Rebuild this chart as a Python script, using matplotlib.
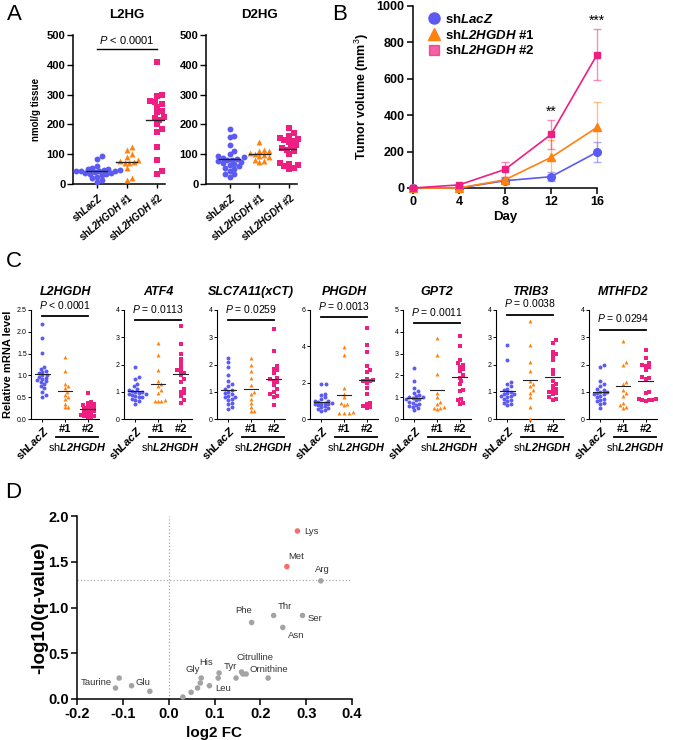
import numpy as np
import matplotlib
matplotlib.use('Agg')
import matplotlib.pyplot as plt
from matplotlib.lines import Line2D

plt.rcParams['font.family'] = ['Liberation Sans', 'DejaVu Sans']
plt.rcParams['axes.unicode_minus'] = False
plt.rcParams['mathtext.fontset'] = 'custom'
plt.rcParams['mathtext.rm'] = 'Liberation Sans'
plt.rcParams['mathtext.it'] = 'Liberation Sans:italic'
plt.rcParams['mathtext.bf'] = 'Liberation Sans:bold'
plt.rcParams['mathtext.bfit'] = 'Liberation Sans:bold:italic'

BLUE = '#5b5bf3'
ORANGE = '#ff8210'
PINK = '#ee1f80'
colors = [BLUE, ORANGE, PINK]
markers = ['o', '^', 's']

# ---- panel A : 2HG levels (nmol/g tissue)
a_ticklabels = [r'sh$\mathbfit{LacZ}$', r'sh$\mathbfit{L2HGDH}$ #1', r'sh$\mathbfit{L2HGDH}$ #2']
l2hg_lacz = [93, 85, 62, 55, 52, 50, 48, 47, 45, 44, 43, 42, 40, 38, 36, 35, 33, 30, 25, 20, 12, 8]
l2hg_sh1 = [125, 115, 100, 90, 80, 76, 75, 72, 70, 55, 20, 15]
l2hg_sh2 = [410, 300, 295, 280, 275, 270, 260, 245, 240, 225, 220, 215, 200, 185, 175, 125, 80, 45, 35]
d2hg_lacz = [185, 162, 158, 130, 112, 100, 95, 90, 88, 85, 82, 80, 78, 75, 70, 68, 65, 60, 55, 50, 45, 35, 32, 22]
d2hg_sh1 = [140, 115, 112, 110, 105, 100, 98, 95, 90, 80, 78, 75]
d2hg_sh2 = [188, 170, 160, 155, 150, 148, 145, 140, 130, 125, 120, 115, 110, 100, 70, 68, 65, 60, 55, 50]

# ---- panel B : tumor growth
days = [0, 4, 8, 12, 16]
vol_lacz = [0, 0, 40, 62, 197]
sem_lacz = [0, 0, 10, 25, 55]
vol_sh1 = [0, 0, 45, 168, 333]
sem_sh1 = [0, 0, 15, 95, 137]
vol_sh2 = [0, 17, 102, 294, 732]
sem_sh2 = [0, 5, 43, 78, 140]
b_labels = [r'sh$\mathbfit{LacZ}$', r'sh$\mathbfit{L2HGDH}$ #1', r'sh$\mathbfit{L2HGDH}$ #2']
stars = {12: '**', 16: '***'}
star_y = {12: 420, 16: 918}

# ---- panel C : relative mRNA level
c_genes = ['L2HGDH', 'ATF4', 'SLC7A11(xCT)', 'PHGDH', 'GPT2', 'TRIB3', 'MTHFD2']
c_pvals = ['< 0.0001', '= 0.0113', '= 0.0259', '= 0.0013', '= 0.0011', '= 0.0038', '= 0.0294']
c_ymax = [2.5, 4, 4, 6, 5, 4, 4]
c_ystep = [0.5, 1, 1, 2, 1, 1, 1]
c_bar = [2.36, 3.63, 3.62, 5.6, 4.39, 3.83, 3.27]
c_lacz = [
    [2.17, 1.86, 1.52, 1.2, 1.15, 1.1, 1.08, 1.05, 1.02, 1.0, 0.97, 0.95, 0.92, 0.9, 0.87, 0.84, 0.8, 0.75, 0.7, 0.63, 0.55, 0.5],
    [1.92, 1.55, 1.45, 1.3, 1.2, 1.1, 1.05, 1.02, 1.0, 0.98, 0.95, 0.92, 0.9, 0.88, 0.85, 0.82, 0.8, 0.75, 0.7, 0.65, 0.55],
    [2.25, 2.1, 1.9, 1.6, 1.4, 1.3, 1.2, 1.1, 1.05, 1.0, 0.95, 0.9, 0.85, 0.82, 0.8, 0.75, 0.7, 0.6, 0.55, 0.45, 0.35],
    [1.9, 1.9, 1.4, 1.3, 1.2, 1.1, 1.0, 1.0, 0.95, 0.9, 0.9, 0.85, 0.8, 0.8, 0.75, 0.7, 0.65, 0.6, 0.55, 0.5, 0.45],
    [2.32, 1.75, 1.4, 1.3, 1.2, 1.1, 1.05, 1.0, 1.0, 0.95, 0.9, 0.9, 0.85, 0.8, 0.75, 0.7, 0.65, 0.6, 0.55, 0.5, 0.4],
    [2.7, 2.15, 1.35, 1.3, 1.2, 1.1, 1.05, 1.0, 0.95, 0.9, 0.9, 0.85, 0.85, 0.8, 0.75, 0.7, 0.65, 0.6, 0.55, 0.5],
    [2.0, 1.9, 1.4, 1.3, 1.2, 1.1, 1.05, 1.0, 1.0, 0.95, 0.9, 0.9, 0.85, 0.8, 0.75, 0.7, 0.65, 0.6, 0.55, 0.4],
]
c_sh1 = [
    [1.43, 1.1, 0.8, 0.75, 0.7, 0.62, 0.55, 0.5, 0.45, 0.35, 0.27, 0.27],
    [2.8, 2.35, 1.8, 1.4, 1.3, 1.2, 1.05, 0.95, 0.7, 0.65, 0.65, 0.65],
    [2.25, 2.0, 1.75, 1.5, 1.25, 1.0, 0.9, 0.75, 0.6, 0.45, 0.3, 0.3],
    [3.95, 3.5, 1.7, 1.4, 1.2, 0.9, 0.85, 0.75, 0.4, 0.35, 0.35, 0.35],
    [3.7, 2.95, 2.05, 1.2, 1.0, 0.8, 0.7, 0.55, 0.5, 0.5, 0.45],
    [3.6, 2.7, 2.1, 1.75, 1.4, 1.3, 1.2, 1.05, 0.95, 0.8, 0.45, 0.0],
    [2.85, 2.1, 2.0, 1.35, 1.3, 1.05, 0.95, 0.85, 0.6, 0.5, 0.45, 0.4],
]
c_sh2 = [
    [0.6, 0.38, 0.36, 0.34, 0.32, 0.3, 0.28, 0.26, 0.25, 0.22, 0.2, 0.18, 0.16, 0.14, 0.12, 0.1, 0.08, 0.06, 0.05, 0.04],
    [3.4, 2.75, 2.4, 2.2, 2.05, 1.9, 1.8, 1.75, 1.7, 1.6, 1.45, 1.35, 1.1, 1.0, 0.95, 0.85, 0.7, 0.6],
    [3.3, 2.5, 1.95, 1.85, 1.8, 1.7, 1.5, 1.45, 1.4, 1.35, 1.25, 1.1, 1.0, 0.9, 0.85, 0.8, 0.5],
    [5.0, 4.1, 3.7, 2.9, 2.7, 2.6, 2.2, 2.15, 2.1, 2.1, 2.0, 1.7, 1.4, 0.9, 0.85, 0.7, 0.65, 0.6],
    [3.8, 3.35, 2.7, 2.55, 2.5, 2.4, 2.3, 2.2, 2.0, 1.9, 1.75, 1.6, 1.35, 1.3, 0.9, 0.85, 0.75, 0.7],
    [2.9, 2.8, 2.45, 2.4, 2.3, 2.15, 1.8, 1.65, 1.4, 1.3, 1.2, 1.1, 1.05, 1.0, 0.95, 0.9, 0.8, 0.75, 0.7],
    [2.55, 2.25, 2.05, 2.0, 1.95, 1.9, 1.8, 1.55, 1.5, 1.45, 1.0, 0.95, 0.75, 0.72, 0.7, 0.7, 0.68, 0.65],
]

# ---- panel D : volcano
aa_names = ['Lys', 'Met', 'Arg', 'Thr', 'Ser', 'Phe', 'Asn', 'Citrulline', '', '', 'Ornithine', 'Tyr',
            'His', '', 'Gly', '', '', 'Leu', '', '', 'Taurine', '', 'Glu', '']
aa_fc = [0.281, 0.258, 0.332, 0.229, 0.292, 0.181, 0.249, 0.159, 0.162, 0.169, 0.217, 0.147,
         0.110, 0.108, 0.071, 0.069, 0.063, 0.089, 0.049, 0.031, -0.116, -0.108, -0.081, -0.041]
aa_q = [1.836, 1.447, 1.291, 0.913, 0.913, 0.836, 0.782, 0.295, 0.273, 0.273, 0.229, 0.229,
        0.284, 0.229, 0.229, 0.175, 0.120, 0.145, 0.073, 0.022, 0.120, 0.229, 0.145, 0.084]
aa_label_off = {'Lys': (5, 0, 'left'), 'Met': (7, 7, 'center'), 'Arg': (1, 8, 'center'),
                'Thr': (8, 6.5, 'center'), 'Ser': (9, -2, 'center'), 'Phe': (-5.5, 8.4, 'center'),
                'Asn': (10, -6, 'center'), 'Citrulline': (9.6, 10.5, 'center'),
                'Ornithine': (0.5, 6.5, 'center'), 'Tyr': (-4, 8, 'center'), 'His': (-9, 7.5, 'center'),
                'Gly': (-6, 6, 'center'), 'Leu': (9.6, -2, 'center'), 'Taurine': (-2.5, 4.3, 'right'),
                'Glu': (8.4, 2.4, 'center')}
q_cut = 1.3

W, H = 673, 740
fig = plt.figure(figsize=(W / 100, H / 100), dpi=100)


def add_ax(l, t, r, b):
    ax = fig.add_axes([l / W, 1 - b / H, (r - l) / W, (b - t) / H])
    ax.spines['top'].set_visible(False)
    ax.spines['right'].set_visible(False)
    return ax


def swarm(ax, xc, vals, d, step=0.5):
    # greedy beeswarm in pixel space
    vals = np.asarray(vals, float)
    pts = ax.transData.transform(np.column_stack([np.full(len(vals), xc), vals]))
    x0 = pts[0, 0]
    placed = []
    xs = np.empty(len(vals))
    inv = ax.transData.inverted()
    for i in np.argsort(vals):
        y = pts[i, 1]
        k = 0
        while True:
            off = ((k + 1) // 2) * (1 if k % 2 else -1) * d * step
            if all(np.hypot(px - (x0 + off), py - y) >= d for px, py in placed):
                break
            k += 1
        placed.append((x0 + off, y))
        xs[i] = inv.transform((x0 + off, y))[0]
    return xs


def dot_groups(ax, groups, d, s, lw_mean, half):
    for j, vals in enumerate(groups):
        xs = swarm(ax, j, vals, d)
        ax.scatter(xs, vals, s=s, marker=markers[j], color=colors[j], linewidths=0,
                   clip_on=False, zorder=3)
        m = np.mean(vals)
        ax.plot([j - half, j + half], [m, m], color='#222222', lw=lw_mean, zorder=4)


# ---------------- Panel A
for (l, r), title, groups, ylab in [((73, 165), 'L2HG', [l2hg_lacz, l2hg_sh1, l2hg_sh2], 'nmol/g tissue'),
                                    ((206, 297), 'D2HG', [d2hg_lacz, d2hg_sh1, d2hg_sh2], None)]:
    ax = add_ax(l, 35, r, 184)
    ax.set_xlim(-0.8, 2.27)
    ax.set_ylim(0, 500)
    ax.set_yticks(range(0, 501, 100))
    ax.set_xticks([0, 1, 2])
    ax.set_xticklabels(a_ticklabels, rotation=40, ha='right', rotation_mode='anchor',
                       fontsize=7, fontweight='bold')
    for t in ax.get_yticklabels():
        t.set_fontweight('bold')
    ax.tick_params(axis='y', labelsize=8, length=4, width=1, pad=1.5)
    ax.tick_params(axis='x', length=3, width=1, pad=2)
    for sp in ax.spines.values():
        sp.set_linewidth(1.1)
    dot_groups(ax, groups, 4.6, 18, 1.0, 0.35)
    ax.text(1, 1.135, title, transform=ax.get_xaxis_transform(), ha='center', va='center',
            fontsize=9.5, fontweight='bold')
    if ylab:
        ax.set_ylabel(ylab, fontsize=7, fontweight='bold', labelpad=4)
        ax.plot([0, 2], [452, 452], color='k', lw=1)
        ax.text(1, 462, '$P$ < 0.0001', ha='center', va='bottom', fontsize=8)

# ---------------- Panel B
ax = add_ax(413, 6, 597, 188)
for vals, err, col, mk, ms in [(vol_lacz, sem_lacz, BLUE, 'o', 5.5),
                               (vol_sh1, sem_sh1, ORANGE, '^', 5.5),
                               (vol_sh2, sem_sh2, PINK, 's', 5)]:
    ax.errorbar(days, vals, yerr=err, fmt='none', ecolor=col, alpha=0.5, elinewidth=1,
                capsize=3, capthick=1, clip_on=False, zorder=2)
    ax.plot(days, vals, color=col, lw=1.2, marker=mk, ms=ms, clip_on=False, zorder=3)
for dday, st in stars.items():
    ax.text(dday, star_y[dday], st, ha='center', va='center', fontsize=10)
ax.set_xlim(0, 16)
ax.set_ylim(0, 1000)
ax.set_xticks(days)
ax.set_yticks(range(0, 1001, 200))
for t in ax.get_xticklabels() + ax.get_yticklabels():
    t.set_fontweight('bold')
ax.tick_params(labelsize=9, length=4, width=1.1, pad=2)
for sp in ax.spines.values():
    sp.set_linewidth(1.1)
ax.set_xlabel('Day', fontsize=9.5, fontweight='bold', labelpad=2)
ax.set_ylabel('Tumor volume (mm$^3$)', fontsize=9, fontweight='bold', labelpad=4)
handles = [Line2D([], [], color=c, marker=m, ls='none', ms=ms, alpha=a)
           for c, m, ms, a in [(BLUE, 'o', 8, 1), (ORANGE, '^', 8, 1), (PINK, 's', 7.5, 0.7)]]
ax.legend(handles, b_labels, loc='upper left', bbox_to_anchor=(0.03, 0.99), frameon=False,
          prop={'weight': 'bold', 'size': 9.5}, handletextpad=0.1, labelspacing=0.2,
          borderaxespad=0, handlelength=1.5)

# ---------------- Panel C
c_lefts = [31, 124, 217, 310, 403, 496, 589]
for k, gene in enumerate(c_genes):
    l = c_lefts[k]
    ax = add_ax(l, 310, l + 68, 419)
    ax.set_xlim(-0.5, 2.5)
    ax.set_ylim(0, c_ymax[k])
    ax.set_yticks(np.arange(0, c_ymax[k] + 1e-9, c_ystep[k]))
    if c_ystep[k] < 1:
        ax.set_yticklabels(['%.1f' % v for v in np.arange(0, c_ymax[k] + 1e-9, c_ystep[k])])
    ax.set_xticks([0, 1, 2])
    ax.set_xticklabels([r'sh$\mathbfit{LacZ}$', '#1', '#2'], fontsize=8, fontweight='bold')
    lab0 = ax.get_xticklabels()[0]
    lab0.set_rotation(45)
    lab0.set_ha('right')
    lab0.set_va('top')
    lab0.set_rotation_mode('anchor')
    ax.tick_params(axis='y', labelsize=5, length=2, width=0.7, pad=1)
    ax.tick_params(axis='x', length=2, width=0.7, pad=1.5)
    for sp in ax.spines.values():
        sp.set_linewidth(0.8)
    dot_groups(ax, [c_lacz[k], c_sh1[k], c_sh2[k]], 3.4, 8, 0.8, 0.33)
    ax.plot([0, 2], [c_bar[k]] * 2, color='k', lw=1.3, clip_on=False)
    ax.text(1, c_bar[k] + 0.05 * c_ymax[k], '$P$ ' + c_pvals[k], ha='center', va='bottom',
            fontsize=7.5)
    ax.text(1, 1.165, gene, transform=ax.get_xaxis_transform(), ha='center', va='center',
            fontsize=9, fontweight='bold', style='italic')
    tr = ax.get_xaxis_transform()
    ax.plot([0.6, 2.45], [-0.165, -0.165], color='k', lw=1.3, transform=tr, clip_on=False)
    ax.text(1.55, -0.26, r'sh$\mathbfit{L2HGDH}$', transform=tr, ha='center', va='center',
            fontsize=7.8)
    if k == 0:
        ax.set_ylabel('Relative mRNA level', fontsize=8, fontweight='bold', labelpad=3)

# ---------------- Panel D
ax = add_ax(77, 516, 352, 699)
ax.set_xlim(-0.2, 0.4)
ax.set_ylim(0, 2)
ax.axvline(0, color='#aaaaaa', ls=':', lw=0.9, zorder=1)
ax.axhline(q_cut, color='#aaaaaa', ls=':', lw=0.9, zorder=1)
pt_col = ['#f46c6c' if q > q_cut + 0.05 else '#a3a3a3' for q in aa_q]
ax.scatter(aa_fc, aa_q, s=16, color=pt_col, linewidths=0, zorder=3, clip_on=False)
for name, x, y in zip(aa_names, aa_fc, aa_q):
    if name:
        dx, dy, ha = aa_label_off[name]
        ax.annotate(name, (x, y), xytext=(dx, dy), textcoords='offset points', ha=ha,
                    va='center', fontsize=6.8, color='#333333')
ax.set_xticks(np.arange(-0.2, 0.41, 0.1))
ax.set_xticklabels(['%.1f' % v for v in np.arange(-0.2, 0.41, 0.1)])
ax.set_yticks(np.arange(0, 2.01, 0.5))
ax.set_yticklabels(['%.1f' % v for v in np.arange(0, 2.01, 0.5)])
for t in ax.get_xticklabels() + ax.get_yticklabels():
    t.set_fontweight('bold')
ax.tick_params(labelsize=10.5, length=4, width=1.1, pad=2)
for sp in ax.spines.values():
    sp.set_linewidth(1.1)
ax.set_xlabel('log2 FC', fontsize=11, fontweight='bold', labelpad=3)
ax.set_ylabel('-log10(q-value)', fontsize=13.5, fontweight='bold', labelpad=0)

# panel letters
for letter, x, y in [('A', 14, 15), ('B', 340, 15), ('C', 14, 261), ('D', 13, 493)]:
    fig.text(x / W, 1 - y / H, letter, fontsize=16, ha='center', va='center')

fig.savefig('out.png', dpi=100)
